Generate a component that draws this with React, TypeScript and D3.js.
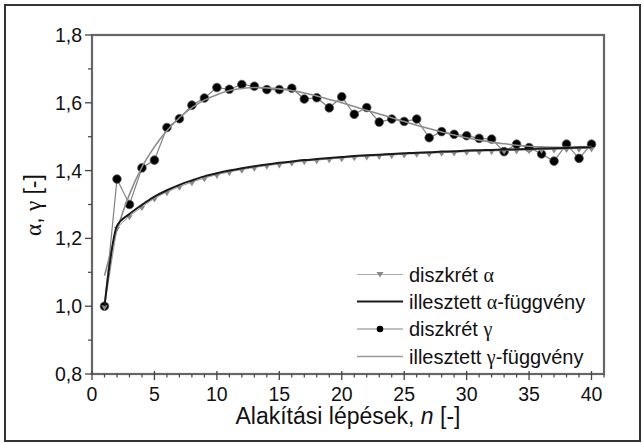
import React from 'react';
import * as d3 from 'd3';

// forming steps n = 1..40
const steps: number[] = d3.range(1, 41);

const alphaDiscrete = [
  1.000, 1.232, 1.266, 1.293, 1.318, 1.337, 1.353, 1.366, 1.378, 1.388,
  1.396, 1.403, 1.409, 1.415, 1.419, 1.424, 1.428, 1.431, 1.434, 1.437,
  1.440, 1.442, 1.444, 1.446, 1.448, 1.450, 1.451, 1.453, 1.454, 1.456,
  1.457, 1.458, 1.459, 1.460, 1.461, 1.462, 1.463, 1.464, 1.465, 1.466,
];

const alphaFit = [
  1.000, 1.237, 1.272, 1.299, 1.323, 1.342, 1.358, 1.371, 1.383, 1.392,
  1.400, 1.407, 1.413, 1.418, 1.423, 1.427, 1.431, 1.434, 1.437, 1.440,
  1.443, 1.445, 1.447, 1.449, 1.451, 1.453, 1.454, 1.456, 1.457, 1.459,
  1.460, 1.461, 1.462, 1.463, 1.464, 1.465, 1.466, 1.467, 1.468, 1.469,
];

const gammaDiscrete = [
  1.000, 1.375, 1.300, 1.408, 1.431, 1.527, 1.553, 1.593, 1.614, 1.645,
  1.640, 1.654, 1.649, 1.639, 1.639, 1.643, 1.611, 1.615, 1.585, 1.618,
  1.566, 1.586, 1.543, 1.552, 1.545, 1.552, 1.497, 1.515, 1.507, 1.503,
  1.495, 1.493, 1.456, 1.478, 1.468, 1.449, 1.428, 1.478, 1.436, 1.478,
];

const gammaFit = [
  1.090, 1.225, 1.330, 1.410, 1.470, 1.518, 1.556, 1.586, 1.608, 1.624,
  1.636, 1.642, 1.645, 1.644, 1.641, 1.636, 1.629, 1.620, 1.610, 1.600,
  1.589, 1.578, 1.567, 1.556, 1.545, 1.534, 1.524, 1.514, 1.505, 1.497,
  1.490, 1.484, 1.479, 1.475, 1.472, 1.470, 1.469, 1.469, 1.470, 1.471,
];

const xTicks = [0, 5, 10, 15, 20, 25, 30, 35, 40];
const yTicks = [0.8, 1.0, 1.2, 1.4, 1.6, 1.8];

const SANS = '"Liberation Sans", Arial, sans-serif';
const SERIF = '"Liberation Serif", "Times New Roman", serif';

export default function App() {
  const x = d3.scaleLinear().domain([0, 41]).range([92, 604]);
  const y = d3.scaleLinear().domain([0.8, 1.8]).range([374, 35]);

  const toPts = (vals: number[]) => steps.map((n, i) => [n, vals[i]] as [number, number]);

  const straight = d3.line<[number, number]>()
    .x(d => x(d[0]))
    .y(d => y(d[1]));
  const smooth = d3.line<[number, number]>()
    .x(d => x(d[0]))
    .y(d => y(d[1]))
    .curve(d3.curveMonotoneX);

  const xMinor = d3.range(0, 42, 1).filter(v => v % 5 !== 0);
  const yMinor = [0.9, 1.1, 1.3, 1.5, 1.7];

  const tri = (cx: number, cy: number, s: number) =>
    `M${cx - s},${cy - s * 0.75}L${cx + s},${cy - s * 0.75}L${cx},${cy + s * 0.85}Z`;

  const [x0, x1] = x.range();
  const [yb, yt] = y.range();

  const legendRows = [274.5, 301.5, 329, 356.5];
  const lx0 = 357, lx1 = 403, ltx = 409;

  return (
    <svg width={643} height={444} style={{ position: 'absolute', left: 0, top: 0 }}
      fontFamily={SANS}>
      <rect x={0} y={0} width={643} height={444} fill="#fff" />
      {/* outer frame */}
      <rect x={5} y={5} width={635} height={436} fill="none" stroke="#333" strokeWidth={2} />

      {/* gamma discrete */}
      <path d={straight(toPts(gammaDiscrete)) || ''} fill="none" stroke="#808080" strokeWidth={1.2} />
      {toPts(gammaDiscrete).map((d, i) => (
        <circle key={'g' + i} cx={x(d[0])} cy={y(d[1])} r={4.3} fill="#000" stroke="#555" strokeWidth={0.8} />
      ))}
      {/* gamma fit */}
      <path d={smooth(toPts(gammaFit)) || ''} fill="none" stroke="#8c8c8c" strokeWidth={1.6} />

      {/* alpha discrete */}
      <path d={straight(toPts(alphaDiscrete)) || ''} fill="none" stroke="#999" strokeWidth={1} />
      {toPts(alphaDiscrete).map((d, i) => (
        <path key={'a' + i} d={tri(x(d[0]), y(d[1]) + 1.5, 3.2)} fill="#8a8a8a" />
      ))}
      {/* alpha fit */}
      <path d={smooth(toPts(alphaFit)) || ''} fill="none" stroke="#1a1a1a" strokeWidth={2} />

      {/* plot frame */}
      <rect x={x0} y={yt} width={x1 - x0} height={yb - yt} fill="none" stroke="#666" strokeWidth={2.2} />

      {/* x ticks */}
      {xTicks.map(t => (
        <g key={'xt' + t}>
          <line x1={x(t)} x2={x(t)} y1={yb - 3} y2={yb + 6} stroke="#444" strokeWidth={1.3} />
          <text x={x(t)} y={401} textAnchor="middle" fontSize={19.5} fill="#111">{t}</text>
        </g>
      ))}
      {xMinor.map(t => (
        <line key={'xm' + t} x1={x(t)} x2={x(t)} y1={yb} y2={yb + 3.5} stroke="#444" strokeWidth={1.2} />
      ))}

      {/* y ticks */}
      {yTicks.map(t => (
        <g key={'yt' + t}>
          <line x1={x0 - 7} x2={x0} y1={y(t)} y2={y(t)} stroke="#444" strokeWidth={1.3} />
          <text x={82} y={y(t) + 7} textAnchor="end" fontSize={19.5} fill="#111">
            {t.toFixed(1).replace('.', ',')}
          </text>
        </g>
      ))}
      {yMinor.map(t => (
        <line key={'ym' + t} x1={x0 - 4} x2={x0} y1={y(t)} y2={y(t)} stroke="#444" strokeWidth={1.2} />
      ))}

      {/* axis titles */}
      <text x={(x0 + x1) / 2} y={424} textAnchor="middle" fontSize={23} fill="#111">
        Alakítási lépések, <tspan fontStyle="italic">n</tspan> [-]
      </text>
      <text transform="translate(41,205) rotate(-90)" textAnchor="middle" fontSize={23} fill="#111">
        <tspan fontFamily={SERIF}>α</tspan>, <tspan fontFamily={SERIF}>γ</tspan> [-]
      </text>

      {/* legend */}
      <g fontSize={20} fill="#111">
        <line x1={lx0} x2={lx1} y1={legendRows[0]} y2={legendRows[0]} stroke="#aaa" strokeWidth={1} />
        <path d={tri((lx0 + lx1) / 2, legendRows[0], 3.5)} fill="#8a8a8a" />
        <text x={ltx} y={legendRows[0] + 7}>diszkrét <tspan fontFamily={SERIF}>α</tspan></text>

        <line x1={lx0} x2={lx1} y1={legendRows[1]} y2={legendRows[1]} stroke="#1a1a1a" strokeWidth={2} />
        <text x={ltx} y={legendRows[1] + 7}>illesztett <tspan fontFamily={SERIF}>α</tspan>-függvény</text>

        <line x1={lx0} x2={lx1} y1={legendRows[2]} y2={legendRows[2]} stroke="#808080" strokeWidth={1.2} />
        <circle cx={(lx0 + lx1) / 2} cy={legendRows[2]} r={3.3} fill="#000" />
        <text x={ltx} y={legendRows[2] + 7}>diszkrét <tspan fontFamily={SERIF}>γ</tspan></text>

        <line x1={lx0} x2={lx1} y1={legendRows[3]} y2={legendRows[3]} stroke="#999" strokeWidth={1.6} />
        <text x={ltx} y={legendRows[3] + 7}>illesztett <tspan fontFamily={SERIF}>γ</tspan>-függvény</text>
      </g>
    </svg>
  );
}
